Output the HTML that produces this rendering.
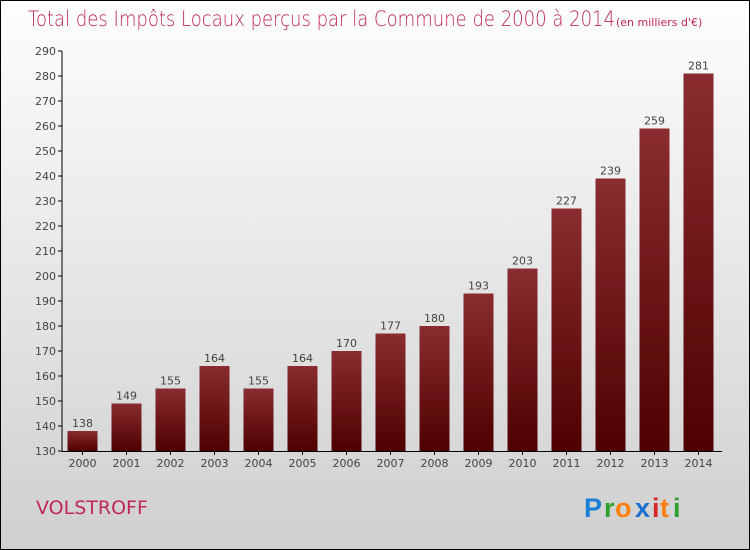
<!DOCTYPE html>
<html><head><meta charset="utf-8"><style>
body{margin:0}
#c{width:750px;height:550px;position:relative;box-sizing:border-box;border:1px solid #000;background:linear-gradient(#fefefe,#cfcfcf);font-family:"DejaVu Sans","Liberation Sans",sans-serif;overflow:hidden}
</style></head><body>
<div id="c">
<svg width="750" height="550" id="s" style="position:absolute;left:0;top:0">
<defs><linearGradient id="g" x1="0" y1="0" x2="0" y2="1"><stop offset="0" stop-color="#8a2c30"/><stop offset="1" stop-color="#4e0000"/></linearGradient></defs>
<text x="27" y="25" font-size="21" fill="#c0285a" font-weight="300" textLength="587" lengthAdjust="spacingAndGlyphs">Total des Impôts Locaux perçus par la Commune de 2000 à 2014</text>
<text x="615" y="25" font-size="11" fill="#c0285a">(en milliers d'€)</text>
<text x="35" y="513" font-size="19" fill="#c0285a">VOLSTROFF</text>
<g font-size="27" font-weight="bold" font-family="Liberation Sans, sans-serif">
<text x="583" y="516" fill="#1a7fd6">P</text><text x="603" y="516" fill="#2ca02c">r</text><text x="614" y="516" fill="#ff7f0e">o</text><text x="634" y="516" fill="#1a6fd0">x</text><text x="651" y="516" fill="#d62728">i</text><text x="659" y="516" fill="#ff7f0e">t</text><text x="672" y="516" fill="#2ca02c">i</text></g>
<g id="ax"></g><g id="bars"></g>
</svg></div>
<script>
const years=["2000","2001","2002","2003","2004","2005","2006","2007","2008","2009","2010","2011","2012","2013","2014"];
const values=[138,149,155,164,155,164,170,177,180,193,203,227,239,259,281];
const yTicks=[130,140,150,160,170,180,190,200,210,220,230,240,250,260,270,280,290];
const NS="http://www.w3.org/2000/svg";
const y=v=>450-(v-130)*2.5;
const x=i=>81.5+i*44;
function mk(t,a,p){const e=document.createElementNS(NS,t);for(const k in a)e.setAttribute(k,a[k]);p.appendChild(e);return e;}
const ax=document.getElementById('ax'),bars=document.getElementById('bars');
const yl=mk('line',{x1:61,y1:50,x2:61,y2:450,stroke:'#000'},ax);


const xl=mk('line',{x1:61,y1:450.5,x2:721,y2:450.5,stroke:'#000'},ax);


yTicks.forEach(v=>{
 mk('line',{x1:57,x2:61,y1:y(v),y2:y(v),stroke:'#000'},ax);
 const t=mk('text',{x:55,y:y(v)+4,'text-anchor':'end','font-size':11,fill:'#444'},ax);t.textContent=v;
 
 
});
years.forEach((yr,i)=>{
 const r=mk('rect',{x:x(i)-15,y:y(values[i]),width:30,height:450-y(values[i]),fill:'url(#g)'},bars);
 
 
 const v=mk('text',{x:x(i),y:y(values[i])-4,'text-anchor':'middle','font-size':11,fill:'#444'},bars);v.textContent=values[i];
 
 
 mk('line',{x1:x(i),x2:x(i),y1:450,y2:454,stroke:'#000'},ax);
 const t=mk('text',{x:x(i),y:466,'text-anchor':'middle','font-size':11,fill:'#444'},ax);t.textContent=yr;
 
 
});
</script>
</body></html>
